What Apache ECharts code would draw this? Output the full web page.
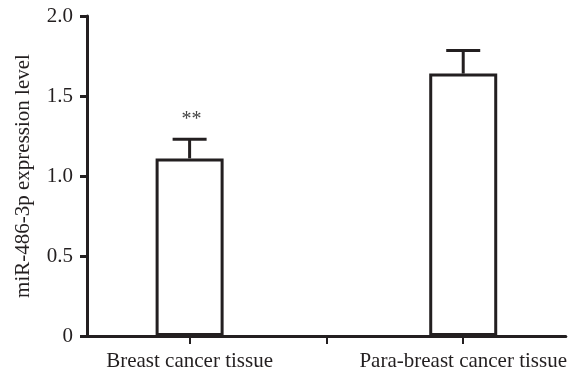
<!DOCTYPE html>
<html>
<head>
<meta charset="utf-8">
<script src="https://cdn.jsdelivr.net/npm/echarts@6/dist/echarts.min.js"></script>
<style>
  html, body { margin: 0; padding: 0; background: #fff; }
  #chart { width: 570px; height: 376px; }
</style>
</head>
<body>
<div id="chart"></div>
<script>
// Group names and where each group sits along the x axis
const categories = ['Breast cancer tissue', 'Para-breast cancer tissue'];
const positions = [1, 3];
// Mean expression and the upper error (SD) for each group
const means = [1.11, 1.64];
const errors = [0.12, 0.145];
// Significance marks drawn above the error bars
const marks = ['**', ''];
// y-axis ticks
const yTicks = [0, 0.5, 1.0, 1.5, 2.0];

const ink = '#231f20';
const font = '"Liberation Serif", "Times New Roman", serif';

const barData = positions.map((p, i) => [p, means[i]]);
const errData = positions.map((p, i) => [p, means[i], errors[i], marks[i]]);

const chart = echarts.init(document.getElementById('chart'));
chart.setOption({
  animation: false,
  backgroundColor: '#fff',
  grid: { left: 87, right: -1, top: 16, bottom: 40, containLabel: false },
  xAxis: {
    type: 'value',
    min: 0.25,
    max: 3.75,
    splitLine: { show: false },
    axisLine: { show: true, lineStyle: { color: ink, width: 3 } },
    axisTick: { show: true, customValues: [1, 2, 3], length: 8, lineStyle: { color: ink, width: 2 } },
    axisLabel: {
      customValues: positions,
      formatter: v => categories[positions.indexOf(Math.round(v))] || '',
      color: ink, fontFamily: font, fontSize: 21, margin: 15
    }
  },
  yAxis: {
    type: 'value',
    min: 0,
    max: 2,
    interval: 0.5,
    name: 'miR-486-3p expression level',
    nameLocation: 'middle',
    nameGap: 53,
    nameTextStyle: { color: ink, fontFamily: font, fontSize: 21 },
    splitLine: { show: false },
    axisLine: { show: true, lineStyle: { color: ink, width: 3 } },
    axisTick: { show: true, length: 7, lineStyle: { color: ink, width: 3 } },
    axisLabel: {
      customValues: yTicks,
      formatter: v => (v === 0 ? '0' : v.toFixed(1)),
      color: ink, fontFamily: font, fontSize: 21, margin: 14
    }
  },
  series: [
    {
      type: 'bar',
      data: barData,
      barWidth: 68,
      itemStyle: { color: '#fff', borderColor: ink, borderWidth: 3 },
      z: 2
    },
    {
      type: 'custom',
      data: errData,
      z: 3,
      renderItem: function (params, api) {
        const x = api.value(0);
        const top = api.coord([x, api.value(1)]);
        const hi = api.coord([x, api.value(1) + api.value(2)]);
        const cap = 17;
        const style = { stroke: ink, lineWidth: 3 };
        const children = [
          { type: 'line', shape: { x1: top[0], y1: top[1], x2: hi[0], y2: hi[1] }, style: style },
          { type: 'line', shape: { x1: hi[0] - cap, y1: hi[1], x2: hi[0] + cap, y2: hi[1] }, style: style }
        ];
        const mark = errData[params.dataIndex][3];
        if (mark) {
          children.push({
            type: 'text',
            style: {
              text: mark, x: hi[0] + 2, y: hi[1] - 19,
              align: 'center', verticalAlign: 'middle',
              fill: '#444', font: '20px ' + font
            }
          });
        }
        return { type: 'group', children: children };
      }
    }
  ]
});
</script>
</body>
</html>
